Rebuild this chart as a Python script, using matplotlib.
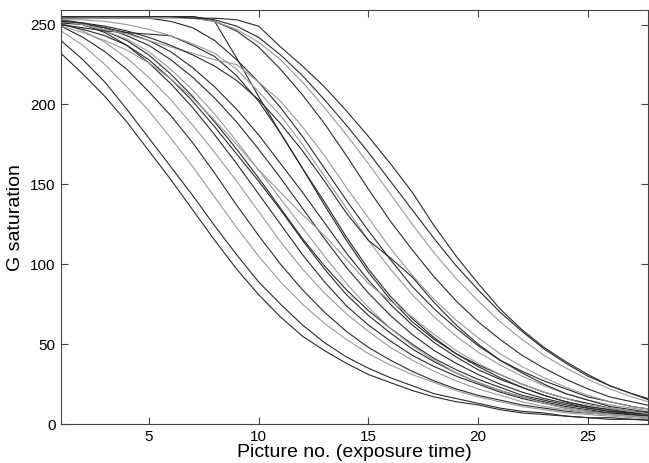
import numpy as np
import matplotlib
matplotlib.use("Agg")
import matplotlib.pyplot as plt

plt.rcParams['font.family'] = ['Liberation Sans', 'DejaVu Sans']

# Picture numbers 1..28
pictures = np.arange(1, 29)

# G saturation curves (one list per sample)
c01 = [232, 219, 205, 189, 171, 153, 134, 115, 97, 81, 67, 55, 46, 38, 31, 26, 21, 17, 14, 12, 9, 7, 6, 5, 4, 3, 3, 2]
c02 = [240, 228, 214, 197, 179, 161, 143, 124, 106, 89, 75, 62, 51, 42, 35, 29, 24, 19, 16, 13, 10, 8, 7, 5, 4, 4, 3, 3]
c03 = [246, 237, 225, 211, 196, 179, 161, 142, 123, 105, 89, 75, 63, 53, 44, 37, 31, 26, 21, 17, 14, 11, 9, 7, 6, 5, 4, 3]
c04 = [249, 242, 233, 222, 208, 193, 176, 157, 137, 118, 100, 84, 70, 58, 48, 40, 33, 27, 22, 18, 15, 12, 10, 8, 7, 6, 5, 4]
c05 = [251, 246, 239, 229, 217, 203, 187, 170, 152, 133, 114, 97, 82, 69, 58, 48, 40, 33, 27, 22, 18, 14, 11, 9, 7, 6, 5, 4]
c06 = [253, 250, 245, 237, 226, 213, 198, 181, 163, 144, 125, 106, 89, 74, 62, 52, 43, 36, 30, 25, 20, 16, 13, 10, 8, 7, 6, 5]
c07 = [250, 247, 243, 237, 228, 216, 202, 186, 169, 152, 134, 115, 97, 81, 68, 57, 47, 39, 32, 26, 21, 17, 14, 11, 9, 7, 6, 5]
c08 = [252, 250, 246, 240, 231, 219, 205, 189, 172, 154, 135, 116, 99, 84, 71, 60, 50, 41, 34, 28, 23, 18, 15, 12, 10, 8, 6, 5]
c09 = [252, 250, 246, 241, 233, 222, 209, 194, 177, 159, 141, 123, 105, 88, 73, 60, 49, 40, 32, 26, 21, 17, 13, 10, 8, 6, 5, 4]
c10 = [253, 251, 248, 243, 237, 228, 217, 204, 189, 172, 154, 135, 116, 98, 82, 68, 56, 46, 38, 31, 25, 20, 16, 13, 10, 8, 7, 6]
c11 = [251, 250, 248, 245, 240, 233, 223, 211, 197, 181, 163, 145, 126, 107, 90, 75, 62, 51, 42, 34, 28, 23, 18, 14, 11, 9, 7, 6]
c12 = [254, 255, 255, 255, 255, 255, 255, 252, 229, 205, 182, 160, 139, 117, 97, 80, 66, 54, 44, 36, 29, 23, 18, 14, 11, 9, 7, 6]
c13 = [250, 248, 246, 245, 244, 243, 237, 230, 218, 202, 182, 160, 137, 115, 95, 78, 64, 53, 44, 37, 31, 25, 20, 16, 13, 10, 8, 7]
c14 = [253, 253, 252, 250, 247, 243, 238, 232, 222, 208, 193, 175, 155, 135, 115, 97, 81, 67, 55, 45, 37, 30, 24, 19, 15, 12, 10, 8]
c15 = [254, 254, 254, 254, 254, 252, 248, 240, 228, 214, 198, 180, 160, 140, 121, 103, 86, 72, 60, 49, 40, 33, 27, 22, 17, 14, 11, 9]
c16 = [252, 250, 247, 244, 240, 236, 232, 228, 225, 214, 202, 186, 168, 148, 129, 110, 93, 78, 65, 54, 44, 36, 29, 23, 18, 14, 11, 9]
c17 = [255, 255, 255, 255, 255, 255, 254, 252, 246, 236, 222, 206, 188, 168, 147, 127, 109, 92, 77, 64, 53, 43, 35, 28, 22, 17, 14, 11]
c18 = [254, 254, 254, 254, 254, 254, 254, 252, 247, 239, 228, 214, 198, 181, 163, 144, 125, 107, 91, 77, 64, 53, 43, 35, 28, 22, 17, 13]
c19 = [255, 255, 255, 255, 255, 255, 255, 253, 249, 242, 231, 218, 203, 187, 170, 152, 134, 116, 99, 84, 70, 58, 47, 38, 30, 24, 19, 14]
c20 = [255, 255, 255, 255, 255, 255, 254, 254, 253, 249, 236, 224, 211, 196, 180, 163, 145, 124, 105, 88, 72, 59, 48, 39, 31, 24, 19, 15]
c21 = [249, 245, 240, 234, 226, 216, 204, 190, 175, 159, 145, 131, 118, 103, 88, 77, 67, 56, 46, 38, 31, 25, 20, 16, 12, 10, 8, 6]
c22 = [252, 251, 249, 246, 242, 237, 231, 224, 215, 203, 188, 171, 152, 132, 115, 104, 92, 76, 62, 50, 40, 32, 25, 19, 15, 11, 9, 7]

curves = [c01, c02, c03, c04, c05, c06, c07, c08, c09, c10, c11,
          c12, c13, c14, c15, c16, c17, c18, c19, c20, c21, c22]
# lighter traces in the reference
gray_ids = {2, 4, 8, 13, 15, 17, 20}

fig = plt.figure(figsize=(6.49, 4.63), dpi=100)
ax = fig.add_axes([0.094, 0.084, 0.905, 0.894])

for i, c in enumerate(curves):
    col = '#9a9a9a' if i in gray_ids else '#2a2a2a'
    ax.plot(pictures, c, color=col, linewidth=0.8)

ax.set_xlim(1, 27.75)
ax.set_ylim(0, 259)
ax.set_xticks([5, 10, 15, 20, 25])
ax.set_yticks([0, 50, 100, 150, 200, 250])
ax.tick_params(direction='in', length=5, width=0.8, colors='#444444',
               labelcolor='black', labelsize=11, top=True, right=True, pad=4)
for s in ax.spines.values():
    s.set_color('#444444')
    s.set_linewidth(0.8)

ax.set_xlabel("Picture no. (exposure time)", fontsize=14, labelpad=0)
ax.set_ylabel("G saturation", fontsize=14, labelpad=4)

fig.savefig("out.png", dpi=100)
